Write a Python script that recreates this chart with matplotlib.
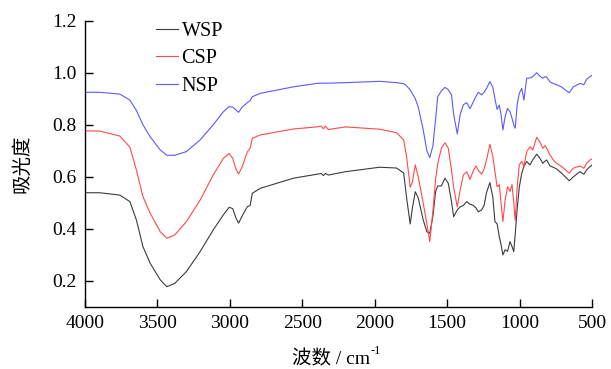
import matplotlib
matplotlib.use("Agg")
import matplotlib.pyplot as plt

wavenumber = [4000, 3900, 3760, 3690, 3645, 3600, 3550, 3480, 3435, 3380, 3300, 3205, 3115, 3045,
              3005, 2980, 2960, 2940, 2915, 2880, 2860, 2845, 2790, 2560, 2400, 2370, 2355, 2340,
              2320, 2200, 1965, 1850, 1800, 1780, 1755, 1740, 1720, 1700, 1665, 1640, 1620, 1598,
              1580, 1565, 1540, 1515, 1492, 1470, 1455, 1430, 1410, 1388, 1365, 1342, 1318, 1300,
              1285, 1262, 1245, 1228, 1205, 1185, 1170, 1155, 1140, 1128, 1115, 1100, 1083, 1066,
              1052, 1040, 1030, 1016, 1002, 985, 970, 951, 928, 909, 882, 860, 840, 825, 813, 790,
              760, 744, 710, 657, 629, 583, 556, 537, 514, 500]

nsp = [0.925, 0.925, 0.918, 0.895, 0.855, 0.800, 0.754, 0.703, 0.683, 0.683, 0.697, 0.742, 0.800, 0.850,
       0.870, 0.868, 0.858, 0.848, 0.868, 0.885, 0.893, 0.908, 0.921, 0.946, 0.959, 0.960, 0.960, 0.960,
       0.960, 0.962, 0.967, 0.962, 0.958, 0.950, 0.934, 0.920, 0.900, 0.870, 0.780, 0.700, 0.674, 0.720,
       0.820, 0.908, 0.930, 0.944, 0.935, 0.915, 0.840, 0.765, 0.840, 0.877, 0.885, 0.862, 0.890, 0.910,
       0.925, 0.915, 0.925, 0.940, 0.966, 0.945, 0.900, 0.859, 0.876, 0.840, 0.780, 0.831, 0.863, 0.850,
       0.825, 0.800, 0.787, 0.880, 0.921, 0.940, 0.895, 0.979, 0.980, 0.985, 1.000, 0.987, 0.979, 0.985,
       0.983, 0.965, 0.957, 0.954, 0.945, 0.923, 0.946, 0.959, 0.954, 0.975, 0.985, 0.990]

csp = [0.777, 0.776, 0.757, 0.714, 0.626, 0.524, 0.460, 0.389, 0.364, 0.377, 0.428, 0.511, 0.607, 0.671,
       0.690, 0.671, 0.633, 0.611, 0.639, 0.695, 0.710, 0.748, 0.761, 0.784, 0.792, 0.795, 0.785, 0.795,
       0.782, 0.792, 0.783, 0.770, 0.742, 0.678, 0.560, 0.580, 0.646, 0.601, 0.499, 0.420, 0.351, 0.470,
       0.590, 0.650, 0.710, 0.731, 0.710, 0.626, 0.560, 0.485, 0.550, 0.607, 0.620, 0.590, 0.626, 0.642,
       0.625, 0.610, 0.630, 0.665, 0.725, 0.680, 0.620, 0.562, 0.570, 0.500, 0.428, 0.510, 0.562, 0.544,
       0.570, 0.500, 0.432, 0.562, 0.646, 0.660, 0.640, 0.697, 0.716, 0.703, 0.752, 0.735, 0.710, 0.720,
       0.710, 0.684, 0.660, 0.652, 0.640, 0.614, 0.633, 0.642, 0.633, 0.652, 0.665, 0.668]

wsp = [0.539, 0.539, 0.530, 0.505, 0.434, 0.332, 0.268, 0.204, 0.178, 0.191, 0.236, 0.313, 0.396, 0.454,
       0.483, 0.478, 0.445, 0.422, 0.450, 0.485, 0.490, 0.537, 0.556, 0.595, 0.610, 0.613, 0.605, 0.613,
       0.607, 0.620, 0.637, 0.634, 0.615, 0.520, 0.419, 0.480, 0.543, 0.520, 0.434, 0.389, 0.383, 0.450,
       0.543, 0.565, 0.565, 0.595, 0.575, 0.505, 0.447, 0.473, 0.485, 0.490, 0.505, 0.495, 0.490, 0.480,
       0.466, 0.473, 0.490, 0.540, 0.578, 0.524, 0.428, 0.420, 0.370, 0.340, 0.300, 0.320, 0.314, 0.351,
       0.332, 0.313, 0.380, 0.480, 0.560, 0.614, 0.640, 0.659, 0.646, 0.665, 0.687, 0.672, 0.652, 0.660,
       0.665, 0.642, 0.635, 0.630, 0.614, 0.585, 0.600, 0.620, 0.610, 0.627, 0.640, 0.645]

series_names = ["WSP", "CSP", "NSP"]
series_colors = ["#3c3c3c", "#ff4a4a", "#5a5aff"]
x_ticks = [4000, 3500, 3000, 2500, 2000, 1500, 1000, 500]
y_ticks = [0.2, 0.4, 0.6, 0.8, 1.0, 1.2]

fig = plt.figure(figsize=(6.11, 3.69), dpi=100)
ax = fig.add_axes([85/611, 1-307/369, (592-85)/611, (307-20.7)/369])

for name, vals, col in zip(series_names, [wsp, csp, nsp], series_colors):
    ax.plot(wavenumber, vals, color=col, lw=0.8, label=name)

ax.set_xlim(4000, 500)
ax.set_ylim(0.1, 1.2)
ax.set_xticks(x_ticks)
ax.set_yticks(y_ticks)
ax.set_xticklabels([str(t) for t in x_ticks])
ax.set_yticklabels([f"{t:.1f}" for t in y_ticks])
ax.spines['top'].set_visible(False)
ax.spines['right'].set_visible(False)
for s in ['left', 'bottom']:
    ax.spines[s].set_linewidth(1.0)
ax.tick_params(direction='in', length=6, width=1, labelsize=14, pad=6)
for lab in ax.get_xticklabels() + ax.get_yticklabels():
    lab.set_fontfamily('Liberation Serif')

ax.set_ylabel('吸光度', fontsize=14, family=['Noto Sans CJK SC'], labelpad=14)

# x label: main text plus superscript
cx = (85 + 592) / 2 / 611
main = fig.text(cx - 0.012, 1 - 359/369, '波数 / cm', fontsize=14,
                family=['Liberation Serif', 'Noto Sans CJK SC'], ha='center', va='center')
fig.canvas.draw()
bb = main.get_window_extent()
fig.text(bb.x1 / fig.bbox.width + 0.001, (bb.y0 + bb.height * 0.62) / fig.bbox.height, '-1',
         fontsize=9, family='Liberation Serif', ha='left', va='bottom')

leg = ax.legend(loc='upper left', bbox_to_anchor=(0.125, 1.025), frameon=False,
                prop={'family': 'Liberation Serif', 'size': 14.5}, handlelength=1.05,
                handletextpad=0.2, labelspacing=0.42, borderaxespad=0.0)

fig.savefig('out.png', dpi=100)
